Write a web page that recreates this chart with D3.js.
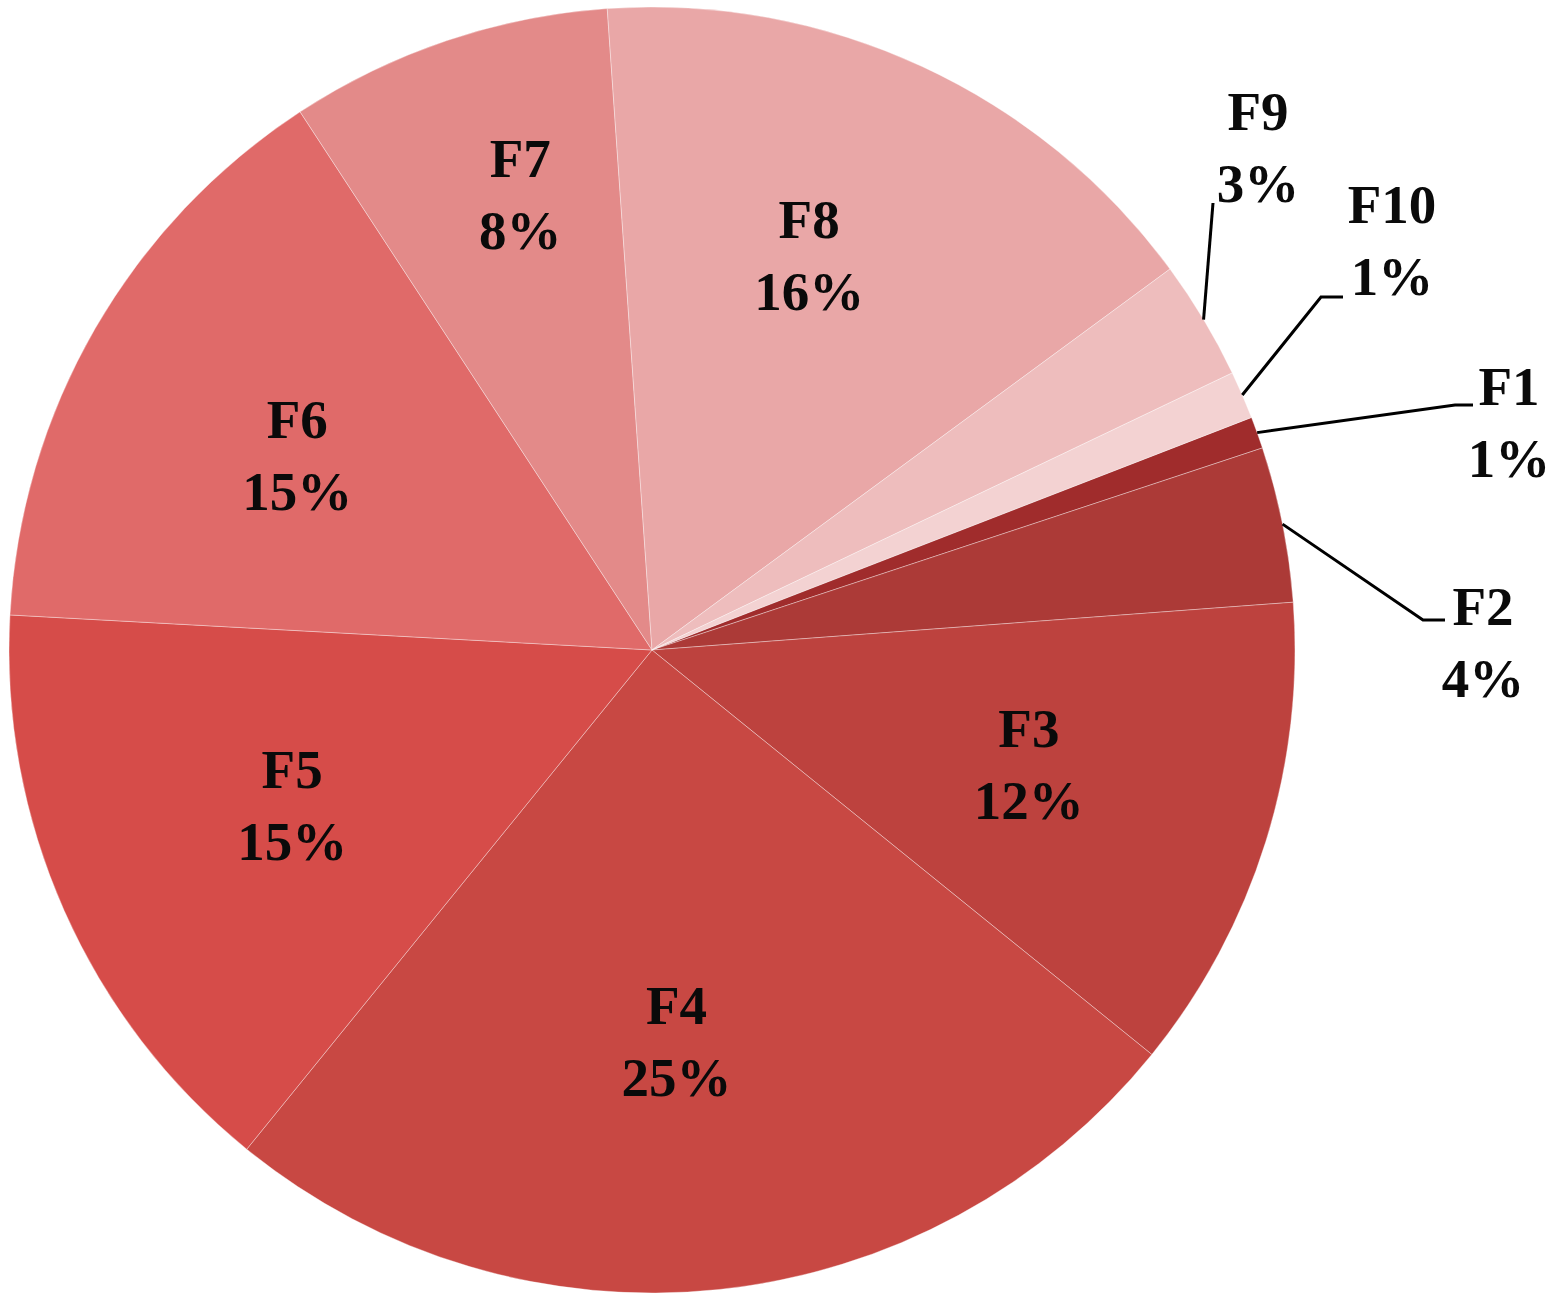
<!DOCTYPE html>
<html>
<head>
<meta charset="utf-8">
<script src="https://cdn.jsdelivr.net/npm/d3@7"></script>
<style>
  body { margin: 0; background: #fff; }
  svg { display: block; }
</style>
</head>
<body>
<div id="chart"></div>
<script>
// slice names, shares (percent) and displayed labels
const names  = ["F1", "F2", "F3", "F4", "F5", "F6", "F7", "F8", "F9", "F10"];
const shares = [0.8, 3.9, 12.0, 25.0, 15.0, 14.9, 8.1, 16.0, 3.0, 1.2];
const labels = ["1%", "4%", "12%", "25%", "15%", "15%", "8%", "16%", "3%", "1%"];
const colors = ["#a02c2c", "#ac3a37", "#bd423e", "#c84843", "#d64c49", "#e06a69",
                "#e38a89", "#e9a7a7", "#eebdbd", "#f3d2d2"];

const width = 1565, height = 1303;
const cx = 652, cy = 650, R = 643;
const lineGap = 72;

// small slices get their label outside with a leader line (relative to the centre)
const callouts = {
  F9:  {path: [[561, -447]], text: [606, -520]},
  F10: {path: [[669, -353], [691, -353]], text: [740, -427]},
  F1:  {path: [[803, -245], [821, -245]], text: [857, -245]},
  F2:  {path: [[771, -30], [793, -30]], text: [831, -25]}
};
// small manual nudges of the inside labels (like excel's best fit)
const nudge = {F8: [-10, -33], F4: [-17, -4], F7: [18, -10], F6: [-10, 5], F5: [4, -5], F3: [-3, -4]};

const svg = d3.select("#chart").append("svg")
    .attr("width", width)
    .attr("height", height);

const g = svg.append("g")
    .attr("transform", "translate(" + cx + "," + cy + ")");

const data = names.map((n, i) => ({name: n, value: shares[i], label: labels[i], color: colors[i]}));

const pie = d3.pie()
    .sort(null)
    .value(d => d.value)
    .startAngle(68.8 * Math.PI / 180)
    .endAngle(68.8 * Math.PI / 180 + 2 * Math.PI);

const arc = d3.arc().innerRadius(0).outerRadius(R);
const edgeArc = d3.arc().innerRadius(R).outerRadius(R);

const arcs = pie(data);

g.selectAll("path.slice")
    .data(arcs).enter()
    .append("path")
    .attr("class", "slice")
    .attr("d", arc)
    .attr("fill", d => d.data.color)
    .attr("stroke", "rgba(255,255,255,0.35)")
    .attr("stroke-width", 1);

const font = "'Liberation Serif', 'Times New Roman', serif";

function drawLabel(x, y, d) {
  const t = g.append("text")
      .attr("font-family", font)
      .attr("font-weight", "bold")
      .attr("font-size", 55)
      .attr("fill", "#0a0a0a")
      .attr("text-anchor", "middle");
  t.append("tspan").attr("x", x).attr("y", y).text(d.data.name);
  t.append("tspan").attr("x", x).attr("y", y + lineGap).text(d.data.label);
}

arcs.forEach(d => {
  const c = callouts[d.data.name];
  if (c) {
    const start = edgeArc.centroid(d);
    const pts = [start].concat(c.path);
    g.append("path")
        .attr("d", d3.line()(pts))
        .attr("fill", "none")
        .attr("stroke", "#000")
        .attr("stroke-width", 3);
    drawLabel(c.text[0], c.text[1], d);
  } else {
    const span = d.endAngle - d.startAngle;
    const r = span < 0.6 ? 470 : 398;
    const mid = (d.startAngle + d.endAngle) / 2;
    const n = nudge[d.data.name] || [0, 0];
    const x = r * Math.sin(mid) + n[0], y = -r * Math.cos(mid) + n[1];
    drawLabel(x, y - 18, d);
  }
});
</script>
</body>
</html>
